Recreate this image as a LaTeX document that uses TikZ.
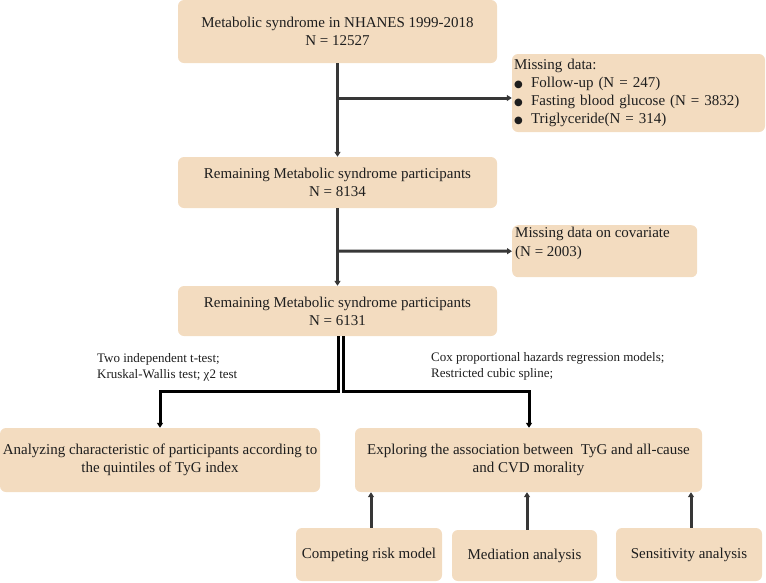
\documentclass[tikz,border=0pt]{standalone}
\usepackage{fontspec}
\setmainfont{Liberation Serif}
\newfontfamily\djv{DejaVu Sans}
\usetikzlibrary{arrows.meta,calc}
\definecolor{boxfill}{RGB}{243,220,192}
\definecolor{txt}{RGB}{30,30,30}
\definecolor{lineA}{RGB}{55,55,55}
\newcommand{\bul}{\makebox[17pt][l]{\djv\fontsize{10}{10}\selectfont ●}}
\begin{document}
\begin{tikzpicture}[x=1pt,y=-1pt,
  mbox/.style={fill=boxfill, draw=none, rounded corners=6pt, inner sep=2pt, text=txt,
    font=\fontsize{15}{18}\selectfont, align=center},
  arrA/.style={draw=lineA, line width=3pt, -{Triangle[length=5pt,width=6pt]}},
  arrB/.style={draw=black, line width=3pt, -{Triangle[length=5pt,width=6pt]}},
  lbl/.style={font=\fontsize{13}{16}\selectfont, text=txt, align=left, inner sep=0pt, anchor=west}
]
\useasboundingbox (0,0) rectangle (766,582);

\node[mbox, minimum width=319pt, minimum height=63pt] (b1) at (337.5,31.5)
  {Metabolic syndrome in NHANES 1999-2018\\N = 12527};
\node[mbox, minimum width=253pt, minimum height=78pt, text width=249pt, align=left] (m1) at (638.5,93)
  {Missing data:\\\bul Follow-up (N = 247)\\\bul Fasting blood glucose (N = 3832)\\\bul Triglyceride(N = 314)};
\node[mbox, minimum width=319pt, minimum height=51pt] (b2) at (337.5,182.5)
  {Remaining Metabolic syndrome participants\\N = 8134};
\node[mbox, minimum width=185pt, minimum height=52pt, anchor=north west] (m2) at (512,225) {};
\node[lbl, anchor=north west, font=\fontsize{15}{19}\selectfont] (m2t) at ($(m2.north west)+(3,2)$)
  {Missing data on covariate\\(N = 2003)};
\node[mbox, minimum width=319pt, minimum height=50pt] (b3) at (337.5,311)
  {Remaining Metabolic syndrome participants\\N = 6131};
\node[mbox, minimum width=320pt, minimum height=64pt] (b4) at (160,460)
  {Analyzing characteristic of participants according to\\the quintiles of TyG index};
\node[mbox, minimum width=347pt, minimum height=64pt] (b5) at (528.5,460)
  {Exploring the association between~ TyG and all-cause\\and CVD morality};
\node[mbox, minimum width=146pt, minimum height=53pt] (c1) at (369,554.5) {Competing risk model};
\node[mbox, minimum width=145pt, minimum height=51pt] (c2) at (524.5,555.5) {Mediation analysis};
\node[mbox, minimum width=146pt, minimum height=53pt] (c3) at (689,554.5) {Sensitivity analysis};

\node[lbl] (l1) at (97,367) {Two independent t-test;\\Kruskal-Wallis test; χ2 test};
\node[lbl] (l2) at (431,366.5) {Cox proportional hazards regression models;\\Restricted cubic spline;};

% top connectors
\draw[arrA] (b1.south) -- (b2.north);
\draw[arrA] (338,98) -- (m1.west |- 0,98);
\draw[arrA] (b2.south) -- (b3.north);
\draw[arrA] (338,251) -- (m2.west);

% split
\coordinate (s1) at (338,391);
\coordinate (s2) at (343,391);
\draw[arrB] ($(b3.south)+(0.5,0)$) -- (s1) -| (b4.north);
\draw[arrB] ($(b3.south)+(5.5,0)$) -- (s2) -| ($(b5.north)+(0.5,0)$);

% bottom arrows
\draw[arrA] (c1.north -| 371,0) -- (b5.south -| 371,0);
\draw[arrA] (c2.north -| 527,0) -- (b5.south -| 527,0);
\draw[arrA] (c3.north -| 691,0) -- (b5.south -| 691,0);
\end{tikzpicture}
\end{document}
